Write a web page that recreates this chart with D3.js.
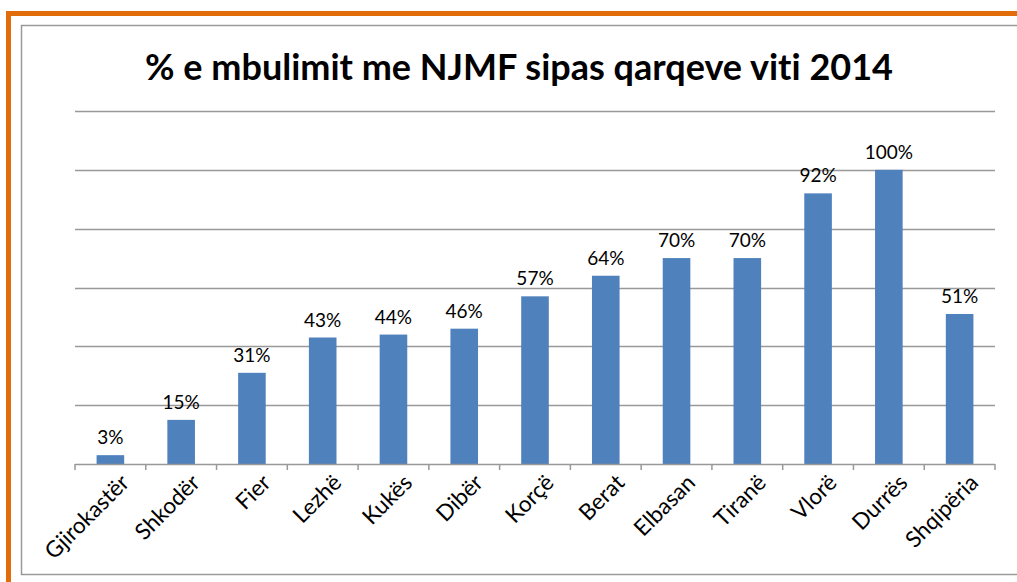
<!DOCTYPE html>
<html>
<head>
<meta charset="utf-8">
<script src="https://cdn.jsdelivr.net/npm/d3@7"></script>
<style>
  body { margin: 0; background: #fff; }
  text { font-family: Lato, "Open Sans", sans-serif; font-variant-ligatures: none; }
</style>
</head>
<body>
<div id="chart"></div>
<script>
var svgWidth = 1017;
var svgHeight = 582;

// chart data
var regions = ["Gjirokastër", "Shkodër", "Fier", "Lezhë", "Kukës", "Dibër", "Korçë",
  "Berat", "Elbasan", "Tiranë", "Vlorë", "Durrës", "Shqipëria"];
var coverage = [3, 15, 31, 43, 44, 46, 57, 64, 70, 70, 92, 100, 51];
var gridTicks = [0, 20, 40, 60, 80, 100, 120];

var margin = { top: 111, right: 22, bottom: 118, left: 75 };
var width = svgWidth - margin.left - margin.right;
var height = svgHeight - margin.top - margin.bottom;

var svg = d3.select("#chart")
  .append("svg")
  .attr("width", svgWidth)
  .attr("height", svgHeight);

// orange frame
svg.append("rect").attr("x", 6).attr("y", 11).attr("width", svgWidth - 6).attr("height", 5).attr("fill", "#E36C0A");
svg.append("rect").attr("x", 6).attr("y", 11).attr("width", 5).attr("height", svgHeight - 11).attr("fill", "#E36C0A");

// gray chart frame
svg.append("path")
  .attr("d", `M${svgWidth},25.5 H21.5 V574.5 H${svgWidth}`)
  .attr("fill", "none")
  .attr("stroke", "#9a9a9a")
  .attr("stroke-width", 1.5);

svg.append("text")
  .attr("x", 519)
  .attr("y", 80)
  .attr("text-anchor", "middle")
  .style("font-size", "36px")
  .style("font-weight", "bold")
  .text("% e mbulimit me NJMF sipas qarqeve viti 2014");

var chartGroup = svg.append("g")
  .attr("transform", `translate(${margin.left}, ${margin.top})`);

var xScale = d3.scaleBand()
  .domain(regions)
  .range([0, width])
  .paddingInner(0.61)
  .paddingOuter(0.305);

var yScale = d3.scaleLinear()
  .domain([0, 120])
  .range([height, 0]);

// gridlines
chartGroup.append("g")
  .selectAll("line")
  .data(gridTicks.slice(1))
  .enter()
  .append("line")
  .attr("x1", 0)
  .attr("x2", width)
  .attr("y1", d => Math.round(yScale(d)) + 0.5)
  .attr("y2", d => Math.round(yScale(d)) + 0.5)
  .attr("stroke", "#999")
  .attr("stroke-width", 1.5);

chartGroup.selectAll(".bar")
  .data(regions)
  .enter()
  .append("rect")
  .attr("class", "bar")
  .attr("x", d => xScale(d))
  .attr("width", xScale.bandwidth())
  .attr("y", (d, i) => yScale(coverage[i]))
  .attr("height", (d, i) => height - yScale(coverage[i]))
  .attr("fill", "#4F81BD");

chartGroup.selectAll(".val")
  .data(regions)
  .enter()
  .append("text")
  .attr("class", "val")
  .attr("x", d => xScale(d) + xScale.bandwidth() / 2)
  .attr("y", (d, i) => yScale(coverage[i]) - 11)
  .attr("text-anchor", "middle")
  .style("font-size", "19px")
  .text((d, i) => coverage[i] + "%");

// x axis with ticks between categories
var step = xScale.step();
var xAxis = chartGroup.append("g")
  .attr("transform", `translate(0, ${height})`);

xAxis.append("line")
  .attr("x1", 0).attr("x2", width)
  .attr("y1", 0.5).attr("y2", 0.5)
  .attr("stroke", "#999").attr("stroke-width", 1.5);

xAxis.selectAll(".tick")
  .data(d3.range(regions.length + 1))
  .enter()
  .append("line")
  .attr("x1", d => d * step)
  .attr("x2", d => d * step)
  .attr("y1", 0)
  .attr("y2", 6)
  .attr("stroke", "#999")
  .attr("stroke-width", 1.5);

xAxis.selectAll(".lbl")
  .data(regions)
  .enter()
  .append("text")
  .attr("class", "lbl")
  .attr("text-anchor", "end")
  .attr("transform", d => `translate(${xScale(d) + xScale.bandwidth() / 2 + 9}, 9) rotate(-45)`)
  .attr("dy", "0.7em")
  .style("font-size", "22.5px")
  .text(d => d);
</script>
</body>
</html>
